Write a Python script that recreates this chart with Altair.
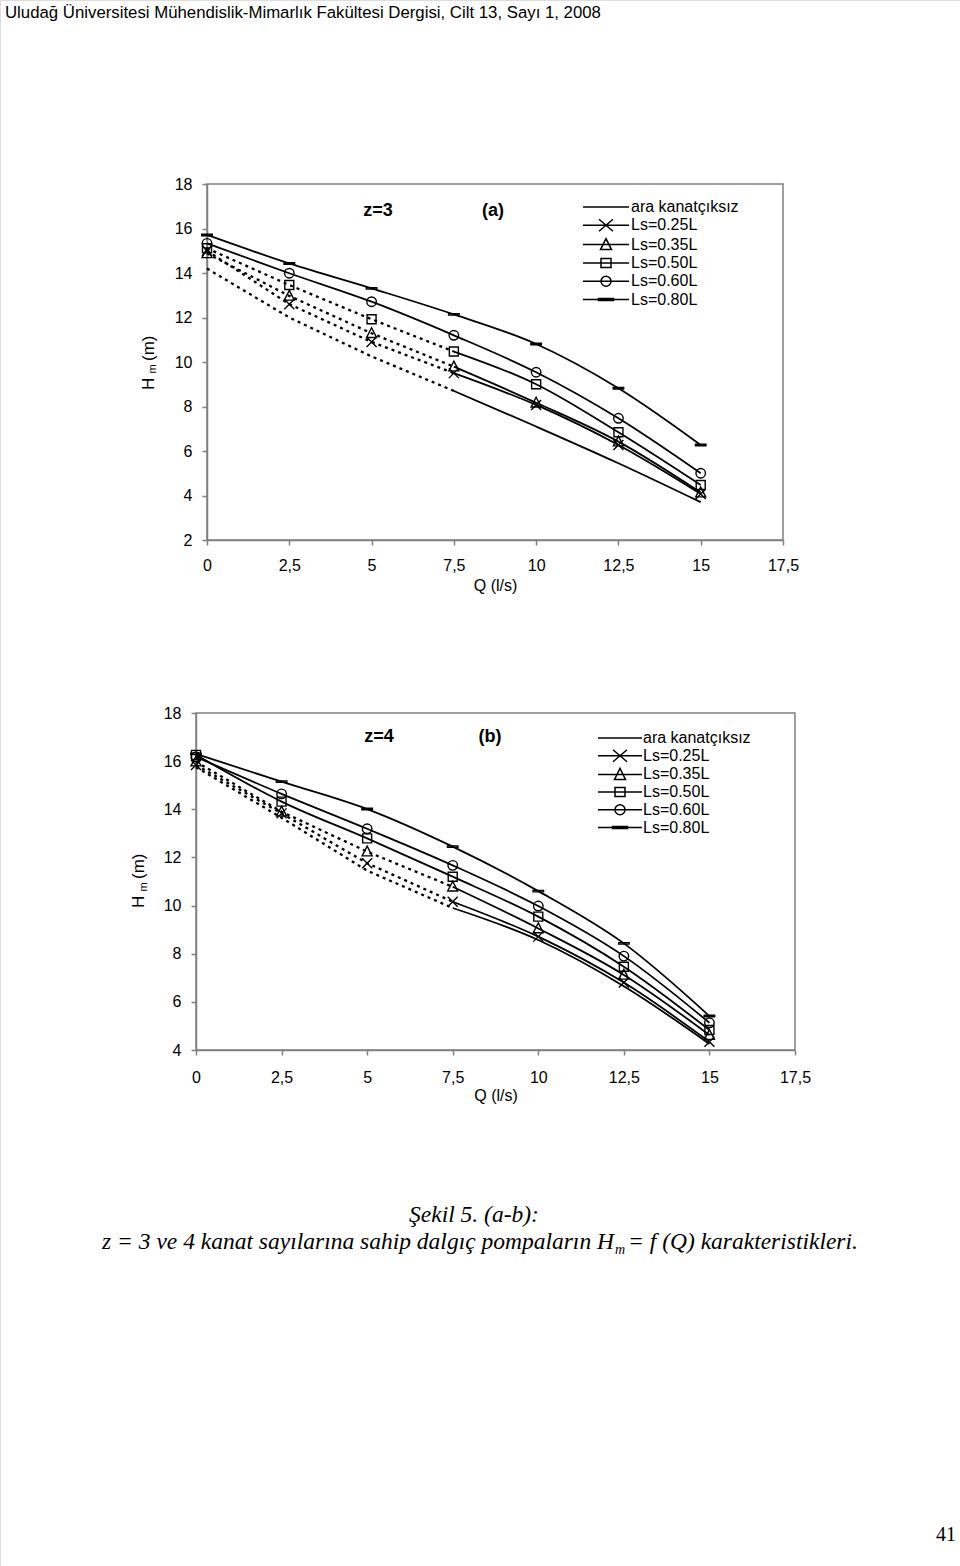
import altair as alt
import pandas as pd

# ---------------- data ----------------
Q = [0, 2.5, 5, 7.5, 10, 12.5, 15]
SERIES = ["ara kanatçıksız", "Ls=0.25L", "Ls=0.35L", "Ls=0.50L", "Ls=0.60L", "Ls=0.80L"]

# panel (a) z=3
A_ARA = [14.2, 12.0, 10.25, 8.7, 7.1, 5.45, 3.7]
A_L025 = [15.0, 12.6, 10.9, 9.5, 8.07, 6.27, 4.07]
A_L035 = [14.88, 12.97, 11.29, 9.79, 8.17, 6.42, 4.13]
A_L050 = [15.11, 13.46, 11.92, 10.47, 9.0, 6.84, 4.47]
A_L060 = [15.33, 13.99, 12.71, 11.2, 9.54, 7.47, 5.0]
A_L080 = [15.71, 14.43, 13.31, 12.14, 10.81, 8.82, 6.27]

# panel (b) z=4
B_ARA = [15.75, 13.65, 11.45, 9.9, 8.57, 6.65, 4.25]
B_L025 = [15.84, 13.83, 11.76, 10.16, 8.71, 6.80, 4.34]
B_L035 = [15.98, 13.90, 12.24, 10.78, 9.05, 7.12, 4.62]
B_L050 = [16.26, 14.32, 12.79, 11.20, 9.54, 7.46, 4.83]
B_L060 = [16.18, 14.64, 13.19, 11.67, 9.98, 7.90, 5.13]
B_L080 = [16.30, 15.15, 14.01, 12.45, 10.60, 8.43, 5.41]

A_DASHED = SERIES[:4]
B_DASHED = SERIES[:3]
DASH_END_Q = 7.5

X_TICKS = [0, 2.5, 5, 7.5, 10, 12.5, 15, 17.5]
A_Y_TICKS = [2, 4, 6, 8, 10, 12, 14, 16, 18]
B_Y_TICKS = [4, 6, 8, 10, 12, 14, 16, 18]

HEADER = "Uludağ Üniversitesi Mühendislik-Mimarlık Fakültesi Dergisi, Cilt 13, Sayı 1, 2008"
CAP1 = "Şekil 5. (a-b):"
CAP2_A = "z = 3 ve 4 kanat sayılarına sahip dalgıç pompaların H"
CAP2_SUB = "m"
CAP2_B = "= f (Q) karakteristikleri."
PAGE = "41"

# ---------------- styles ----------------
W, H = 960, 1566
SANS = "Liberation Sans"
SERIF = "Liberation Serif"
GREY = "#808080"

MARKER_PATHS = [
    "M-1,-1L1,1M-1,1L1,-1",
    "M0,-1.1L1,0.85L-1,0.85Z",
    "M-0.9,-0.9H0.9V0.9H-0.9Z",
    "M0.95,0A0.95,0.95 0 1,1 -0.95,0A0.95,0.95 0 1,1 0.95,0",
    "M-1.05,-0.15H1.05V0.15H-1.05Z",
]


def legend_paths(f, half_line):
    """Legend symbols (line + marker) in pixel units divided by the symbol scale factor f."""
    def n(v):
        return f"{v / f:.4f}"
    line = f"M{n(-half_line)},0H{n(half_line)}"
    return [
        line,
        line + f"M{n(-7)},{n(-6)}L{n(7)},{n(6)}M{n(-7)},{n(6)}L{n(7)},{n(-6)}",
        line + f"M0,{n(-6)}L{n(5.5)},{n(5)}L{n(-5.5)},{n(5)}Z",
        line + f"M{n(-5)},{n(-4.5)}H{n(5)}V{n(4.5)}H{n(-5)}Z",
        line + f"M{n(5)},0A{n(5)},{n(5)} 0 1,1 {n(-5)},0A{n(5)},{n(5)} 0 1,1 {n(5)},0",
        line + f"M{n(-7.5)},{n(-1)}H{n(7.5)}V{n(1)}H{n(-7.5)}Z",
    ]


def build(values, dashed):
    rows, marks = [], []
    for name, vals in zip(SERIES, values):
        for q, h in zip(Q, vals):
            if name in dashed:
                if q <= DASH_END_Q:
                    rows.append(dict(series=name, Q=q, H=h, part="dash"))
                if q >= DASH_END_Q:
                    rows.append(dict(series=name, Q=q, H=h, part="solid"))
            else:
                rows.append(dict(series=name, Q=q, H=h, part="solid"))
            if name != SERIES[0]:
                marks.append(dict(series=name, Q=q, H=h))
    return pd.DataFrame(rows), pd.DataFrame(marks)


def panel(values, dashed, y_ticks, x_range, y_range, lab_pad, title_pad,
          leg_x, leg_y, leg_px, leg_half, leg_off, leg_row, ztxt, tag, zpos, tagpos):
    df, mk = build(values, dashed)
    xs = alt.Scale(domain=[X_TICKS[0], X_TICKS[-1]], range=x_range, nice=False, zero=False)
    ys = alt.Scale(domain=[y_ticks[0], y_ticks[-1]], range=y_range, nice=False, zero=False)
    xaxis = alt.Axis(orient="bottom", offset=y_range[0] - H, values=X_TICKS,
                     labelExpr="replace(toString(datum.value), '.', ',')",
                     title="Q (l/s)", titleFont=SANS, titleFontSize=16, titleFontWeight="normal",
                     titleColor="black", titlePadding=title_pad,
                     labelFont=SANS, labelFontSize=16, labelColor="black", labelPadding=lab_pad,
                     tickSize=5, tickColor=GREY, tickWidth=1.5, domainColor=GREY, domainWidth=1.5,
                     grid=False, labelFlush=False, labelOverlap=False)
    yaxis = alt.Axis(orient="left", offset=-x_range[0], values=y_ticks, title=None,
                     labelFont=SANS, labelFontSize=16, labelColor="black", labelPadding=10,
                     tickSize=5, tickColor=GREY, tickWidth=1.5, domainColor=GREY, domainWidth=1.5,
                     grid=False, labelFlush=False, labelOverlap=False)
    X = alt.X("Q:Q", scale=xs, axis=xaxis)
    Y = alt.Y("H:Q", scale=ys, axis=yaxis)

    frame_df = pd.DataFrame({"x0": [X_TICKS[0]], "x1": [X_TICKS[-1]],
                             "y0": [y_ticks[0]], "y1": [y_ticks[-1]]})
    frame = alt.Chart(frame_df).mark_rect(fill="white", fillOpacity=0, stroke=GREY, strokeWidth=1.5).encode(
        x=alt.X("x0:Q", scale=xs, axis=xaxis), x2="x1:Q",
        y=alt.Y("y0:Q", scale=ys, axis=yaxis), y2="y1:Q")

    base = alt.Chart(df)
    dash = base.transform_filter(alt.datum.part == "dash").mark_line(
        color="black", strokeWidth=2.3, strokeDash=[3, 4]).encode(x=X, y=Y, detail="series:N")
    solid = base.transform_filter(alt.datum.part == "solid").mark_line(
        color="black", strokeWidth=1.8, interpolate="monotone").encode(x=X, y=Y, detail="series:N")
    markers = alt.Chart(mk).mark_point(filled=False, color="black", strokeWidth=1.4, size=100, opacity=1).encode(
        x=X, y=Y,
        shape=alt.Shape("series:N", scale=alt.Scale(domain=SERIES[1:], range=MARKER_PATHS), legend=None))
    f = leg_px / 2.0
    leg = base.transform_filter(alt.datum.Q < 0).mark_point(filled=False, color="black", strokeWidth=1.5).encode(
        x=X, y=Y,
        shape=alt.Shape("series:N", scale=alt.Scale(domain=SERIES, range=legend_paths(f, leg_half)),
                        legend=alt.Legend(orient="none", legendX=leg_x, legendY=leg_y, title=None,
                                          padding=0, symbolSize=leg_px * leg_px, labelOffset=leg_off,
                                          rowPadding=leg_row, labelFont=SANS, labelFontSize=16,
                                          labelColor="black", symbolStrokeColor="black",
                                          symbolFillColor="transparent", symbolStrokeWidth=1.5,
                                          symbolOpacity=1, labelLimit=300)))
    z = alt.Chart().mark_text(font=SANS, fontSize=18, fontWeight="bold", color="black").encode(
        x=alt.value(zpos[0]), y=alt.value(zpos[1]), text=alt.value(ztxt))
    t = alt.Chart().mark_text(font=SANS, fontSize=18, fontWeight="bold", color="black").encode(
        x=alt.value(tagpos[0]), y=alt.value(tagpos[1]), text=alt.value(tag))
    return alt.layer(frame, dash, solid, markers, leg, z, t).resolve_scale(shape="independent")


def text(txt, x, y, size, font=SANS, align="left", baseline="alphabetic", style="normal", angle=0):
    return alt.Chart().mark_text(font=font, fontSize=size, align=align, baseline=baseline,
                                 fontStyle=style, angle=angle, color="black").encode(
        x=alt.value(x), y=alt.value(y), text=alt.value(txt))


pa = panel([A_ARA, A_L025, A_L035, A_L050, A_L060, A_L080], A_DASHED, A_Y_TICKS,
           [207, 783], [540, 184], 12, 4, 596.5, 197.5, 17, 23, 15.5, 0.3,
           "z=3", "(a)", (378, 211), (493, 211))
pb = panel([B_ARA, B_L025, B_L035, B_L050, B_L060, B_L080], B_DASHED, B_Y_TICKS,
           [196, 795], [1050, 713], 14, 2, 611, 729, 16, 22, 14, 0.7,
           "z=4", "(b)", (379, 737), (490, 737))

texts = [
    text(HEADER, 5, 18, 16.8),
    # y titles (a)
    text("H", 148.5, 390, 17, baseline="middle", angle=270),
    text("m", 153, 373.5, 11, baseline="middle", angle=270),
    text("(m)", 148.5, 361, 17, baseline="middle", angle=270),
    # y titles (b)
    text("H", 139, 908, 17, baseline="middle", angle=270),
    text("m", 143.5, 891.5, 11, baseline="middle", angle=270),
    text("(m)", 139, 879, 17, baseline="middle", angle=270),
    # caption
    text(CAP1, 474, 1222, 23.5, font=SERIF, align="center", style="italic"),
    text(CAP2_A, 614, 1249, 23.5, font=SERIF, align="right", style="italic"),
    text(CAP2_SUB, 615, 1254, 14, font=SERIF, style="italic"),
    text(CAP2_B, 628, 1249, 23.5, font=SERIF, style="italic"),
    text(PAGE, 956, 1541, 20, font=SERIF, align="right"),
]

chart = alt.layer(pa, pb, *texts).resolve_scale(
    x="independent", y="independent", shape="independent"
).properties(
    width=W, height=H, padding=0, autosize=alt.AutoSizeParams(type="none")
).configure_view(stroke=None).configure(background="white")

chart.save("out.html", embed_options={"renderer": "svg", "actions": False})
